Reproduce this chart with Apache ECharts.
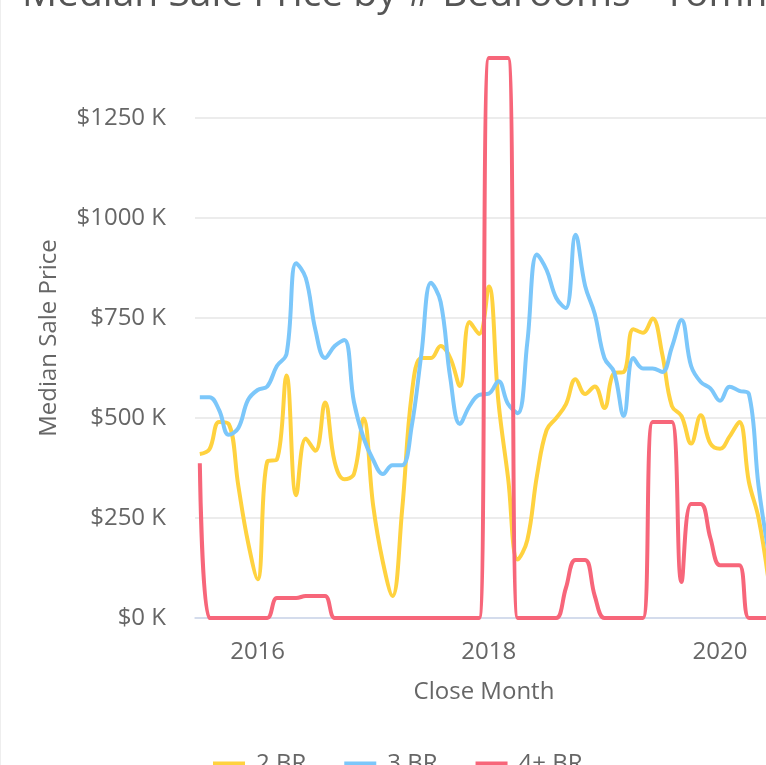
<!DOCTYPE html>
<html>
<head>
    <meta charset="utf-8">
    <title>Median Sale Price by # Bedrooms</title>
    <script src="https://cdn.jsdelivr.net/npm/echarts@6/dist/echarts.min.js"></script>
    <style>
        html, body { margin: 0; padding: 0; overflow: hidden; background: #fff; }
        #main { position: absolute; left: 0; top: 0; width: 800px; height: 765px; border-left: 1px solid #eee; }
    </style>
</head>
<body>
    <div id="main"></div>
    <script type="text/javascript">
        var myChart = echarts.init(document.getElementById('main'));

        // close months (category axis)
        var months = [
            '2015-07', '2015-08', '2015-09', '2015-10', '2015-11', '2015-12',
            '2016-01', '2016-02', '2016-03', '2016-04', '2016-05', '2016-06',
            '2016-07', '2016-08', '2016-09', '2016-10', '2016-11', '2016-12',
            '2017-01', '2017-02', '2017-03', '2017-04', '2017-05', '2017-06',
            '2017-07', '2017-08', '2017-09', '2017-10', '2017-11', '2017-12',
            '2018-01', '2018-02', '2018-03', '2018-04', '2018-05', '2018-06',
            '2018-07', '2018-08', '2018-09', '2018-10', '2018-11', '2018-12',
            '2019-01', '2019-02', '2019-03', '2019-04', '2019-05', '2019-06',
            '2019-07', '2019-08', '2019-09', '2019-10', '2019-11', '2019-12',
            '2020-01', '2020-02', '2020-03', '2020-04', '2020-05', '2020-06'
        ];

        // median sale price, $K
        var br2 = [
            410, 422, 490, 485, 330, 190, 97, 391, 396, 606, 307, 449,
            418, 539, 390, 347, 360, 499, 280, 140, 55, 270, 560, 650,
            650, 680, 650, 580, 740, 710, 829, 540, 350, 146, 195, 356,
            470, 500, 534, 597, 560, 579, 525, 612, 615, 722, 713, 749,
            660, 530, 505, 436, 507, 436, 423, 454, 490, 340, 250, 100
        ];
        var br3 = [
            552, 552, 520, 458, 475, 545, 570, 579, 630, 660, 887, 850,
            720, 650, 680, 695, 540, 450, 395, 360, 382, 382, 480, 660,
            838, 790, 600, 485, 530, 558, 561, 592, 535, 512, 690, 909,
            870, 800, 775, 958, 830, 760, 650, 615, 505, 650, 624, 624,
            615, 677, 745, 630, 590, 574, 543, 578, 568, 560, 330, 170
        ];
        var br4 = [
            387, 0, 0, 0, 0, 0, 0, 0, 50, 50, 50, 55,
            55, 55, 0, 0, 0, 0, 0, 0, 0, 0, 0, 0,
            0, 0, 0, 0, 0, 0, 1400, 1400, 1400, 0, 0, 0,
            0, 0, 75, 145, 145, 55, 0, 0, 0, 0, 0, 490,
            490, 490, 90, 285, 285, 200, 132, 132, 132, 0, 0, 0
        ];

        var labelColor = '#666';
        var font = 'Open Sans';

        function lineSeries(name, data, color) {
            return {
                name: name,
                type: 'line',
                data: data,
                smooth: 0.4,
                showSymbol: false,
                lineStyle: { color: color, width: 4 },
                itemStyle: { color: color }
            };
        }

        var option = {
            animation: false,
            textStyle: { fontFamily: font },
            title: {
                text: 'Median Sale Price by # Bedrooms - Tomm',
                left: 16,
                top: -30,
                textStyle: { fontFamily: font, fontSize: 39, fontWeight: 'normal', color: '#555' }
            },
            legend: {
                left: 207,
                top: 747,
                icon: 'rect',
                itemWidth: 32,
                itemHeight: 5,
                itemGap: 38,
                textStyle: { fontFamily: font, fontSize: 24, color: labelColor, padding: [0, 0, 0, 6] },
                data: ['2 BR', '3 BR', '4+ BR']
            },
            grid: {
                left: 194,
                right: 28,
                top: 58,
                bottom: 147
            },
            xAxis: {
                type: 'category',
                data: months,
                boundaryGap: true,
                name: 'Close Month',
                nameLocation: 'middle',
                nameGap: 62,
                nameTextStyle: { fontFamily: font, fontSize: 24, color: labelColor },
                axisLine: { lineStyle: { color: '#ccd6eb', width: 1.5 } },
                axisTick: { show: false },
                axisLabel: {
                    fontFamily: font,
                    fontSize: 24,
                    color: labelColor,
                    margin: 22,
                    interval: function (index, value) {
                        var y = +value.slice(0, 4);
                        return value.slice(5) === '01' && y % 2 === 0;
                    },
                    formatter: function (value) {
                        return value.slice(0, 4);
                    }
                },
                splitLine: { show: false }
            },
            yAxis: {
                type: 'value',
                min: 0,
                max: 1400,
                interval: 250,
                name: 'Median Sale Price',
                nameLocation: 'middle',
                nameGap: 134,
                nameTextStyle: { fontFamily: font, fontSize: 24, color: labelColor },
                axisLine: { show: false },
                axisTick: { show: false },
                axisLabel: {
                    fontFamily: font,
                    fontSize: 24,
                    color: labelColor,
                    margin: 29,
                    showMaxLabel: false,
                    formatter: function (v) { return '$' + v + ' K'; }
                },
                splitLine: { showMaxLine: false, lineStyle: { color: '#e6e6e6', width: 1.5 } }
            },
            series: [
                lineSeries('2 BR', br2, '#FFD23F'),
                lineSeries('3 BR', br3, '#7CC7FA'),
                lineSeries('4+ BR', br4, '#F7667A')
            ]
        };

        myChart.setOption(option);
    </script>
</body>
</html>
